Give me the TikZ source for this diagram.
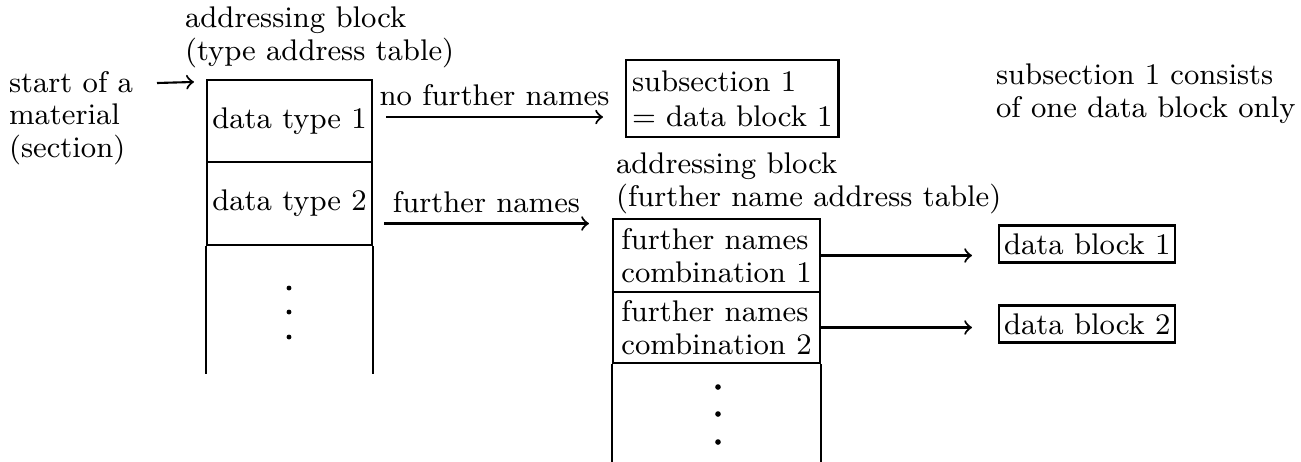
\documentclass[tikz,border=0pt]{standalone}
\usepackage{tikz}
\usepackage{amssymb}

\begin{document}
\begin{tikzpicture}[style=semithick,scale=1]
\newcommand{\tsize}{\fontsize{8.5}{9.2}\selectfont}
\useasboundingbox (0,0) rectangle (13.01,-4.61);
\begin{scope}[shape=rectangle,inner sep=0pt]
\tikzstyle{every node}=[font=\tsize]
\tikzstyle{cell}=[draw,minimum width=1.65cm]
\tikzstyle{fcell}=[draw,minimum width=2.07cm,align=left]
\tikzstyle{block}=[draw,inner xsep=0.5mm,inner ysep=0.8mm]
\tikzstyle{label}=[above,inner sep=1mm]
% type address table
\node[anchor=base west,align=left] (start) at (0.08,-1.57) {start of a\\material\\(section)};
\node[anchor=base west,align=left] (title1) at (1.84,-0.60) {addressing block\\(type address table)};
\node[cell,minimum height=0.82cm] (dt1) at (2.895,-1.21) {data type 1};
\node[cell,minimum height=0.83cm] (dt2) at (2.895,-2.035) {data type 2};
\draw (dt2.south west) -- ++(0,-1.28);
\draw (dt2.south east) -- ++(0,-1.28);
\fill (2.89,-2.88) circle (0.7pt);
\fill (2.89,-3.12) circle (0.7pt);
\fill (2.89,-3.37) circle (0.7pt);
% subsection = one data block
\node[draw,anchor=west,align=left,minimum height=0.77cm,inner xsep=0.6mm] (sub1) at (6.25,-0.985) {subsection 1\\[0.8pt]= data block 1};
\node[anchor=base west,align=left] (note) at (9.95,-1.17) {subsection 1 consists\\of one data block only};
% further name address table
\node[anchor=base west,align=left] (title2) at (6.15,-2.06) {addressing block\\(further name address table)};
\node[fcell,minimum height=0.73cm] (fn1) at (7.165,-2.555) {further names\\combination 1};
\node[fcell,minimum height=0.71cm] (fn2) at (7.165,-3.275) {further names\\combination 2};
\draw (fn2.south west) -- ++(0,-0.98);
\draw (fn2.south east) -- ++(0,-0.98);
\fill (7.18,-3.87) circle (0.8pt);
\fill (7.18,-4.14) circle (0.8pt);
\fill (7.18,-4.42) circle (0.8pt);
\node[block,anchor=west] (db1) at (9.98,-2.44) {data block 1};
\node[block,anchor=west] (db2) at (9.98,-3.24) {data block 2};
% arrows
\coordinate (s0) at (1.57,-0.83);
\draw [->] (s0) -- ([xshift=-1.2mm,yshift=-0.3mm]dt1.north west);
\draw [->] ([xshift=1.3mm,yshift=0.4mm]dt1.east) -- ([xshift=-2.2mm,yshift=0.4mm]dt1.east -| sub1.west) node[label,midway] {no further names};
\draw [->] ([xshift=1.1mm,yshift=-2mm]dt2.east) -- ([xshift=-2.3mm,yshift=-2mm]dt2.east -| fn1.west) node[label,midway] {further names};
\draw [->] (fn1.east) -- ([xshift=-2.6mm]fn1.east -| db1.west);
\draw [->] (fn2.east) -- ([xshift=-2.6mm]fn2.east -| db2.west);
\end{scope}
\end{tikzpicture}
\end{document}
